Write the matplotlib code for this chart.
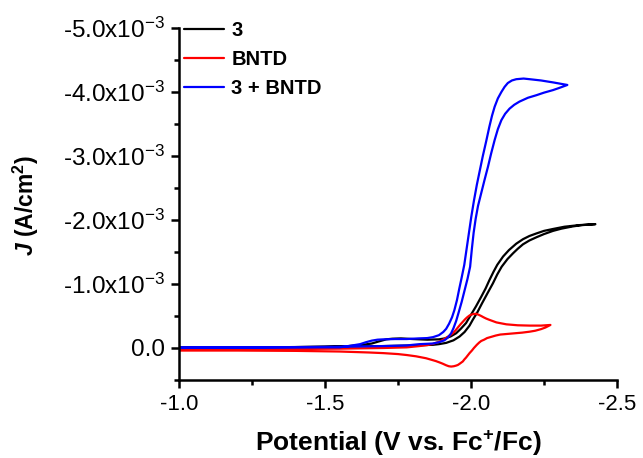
import matplotlib
matplotlib.use("Agg")
import matplotlib.pyplot as plt
from matplotlib.ticker import MultipleLocator, FixedLocator

plt.rcParams['font.family'] = ['Liberation Sans', 'DejaVu Sans']
plt.rcParams['mathtext.fontset'] = 'custom'
plt.rcParams['mathtext.rm'] = 'Liberation Sans'
plt.rcParams['mathtext.it'] = 'Liberation Sans:italic:bold'
plt.rcParams['mathtext.bf'] = 'Liberation Sans:bold'

SCALE = 1e-3  # values below are in units of 1e-3 A/cm2

# ---- Series "3" (black) ----
e3_fwd = [-1.00, -1.30, -1.50, -1.58, -1.63, -1.66, -1.69, -1.71, -1.73, -1.76, -1.80,
          -1.85, -1.89, -1.91, -1.93, -1.949, -1.965, -1.983, -2.000, -2.017, -2.035,
          -2.050, -2.063, -2.077, -2.090, -2.110, -2.130, -2.155, -2.178, -2.200, -2.224,
          -2.250, -2.281, -2.320, -2.370, -2.426]
j3_fwd = [-0.01, -0.01, -0.02, -0.03, -0.05, -0.07, -0.11, -0.135, -0.145, -0.15, -0.14,
          -0.13, -0.135, -0.15, -0.18, -0.23, -0.30, -0.39, -0.52, -0.65, -0.80,
          -0.93, -1.06, -1.19, -1.30, -1.43, -1.53, -1.63, -1.70, -1.75, -1.79,
          -1.83, -1.86, -1.895, -1.92, -1.935]
e3_rev = [-2.426, -2.380, -2.349, -2.310, -2.281, -2.250, -2.224, -2.200, -2.178, -2.160,
          -2.144, -2.125, -2.105, -2.090, -2.075, -2.057, -2.038, -2.022, -2.006, -1.995,
          -1.978, -1.961, -1.940, -1.915, -1.890, -1.870, -1.80, -1.70, -1.55, -1.30, -1.00]
j3_rev = [-1.935, -1.92, -1.90, -1.865, -1.83, -1.78, -1.73, -1.68, -1.62, -1.55,
          -1.48, -1.39, -1.27, -1.15, -1.01, -0.86, -0.70, -0.56, -0.44, -0.35,
          -0.25, -0.18, -0.12, -0.08, -0.06, -0.05, -0.04, -0.03, -0.02, -0.01, 0.00]

# ---- Series "BNTD" (red) ----
eb_fwd = [-1.00, -1.30, -1.55, -1.70, -1.78, -1.823, -1.85, -1.87, -1.892, -1.905, -1.915,
          -1.927, -1.938, -1.947, -1.955, -1.964, -1.972, -1.980, -1.987, -1.994, -2.000,
          -2.008, -2.017, -2.026, -2.035, -2.043, -2.052, -2.063, -2.075, -2.087, -2.098,
          -2.121, -2.160, -2.201, -2.240, -2.272]
jb_fwd = [0.02, 0.02, 0.01, 0.00, -0.01, -0.03, -0.045, -0.065, -0.10, -0.13, -0.16,
          -0.195, -0.23, -0.275, -0.32, -0.37, -0.41, -0.45, -0.48, -0.505, -0.52,
          -0.53, -0.535, -0.52, -0.50, -0.48, -0.46, -0.44, -0.42, -0.40, -0.39,
          -0.37, -0.355, -0.35, -0.35, -0.36]
eb_rev = [-2.272, -2.255, -2.240, -2.220, -2.201, -2.175, -2.150, -2.125, -2.100, -2.085,
          -2.070, -2.055, -2.045, -2.035, -2.028, -2.020, -2.010, -2.003, -1.995, -1.989,
          -1.983, -1.977, -1.972, -1.966, -1.960, -1.955, -1.949, -1.941, -1.932, -1.924,
          -1.915, -1.903, -1.892, -1.880, -1.869, -1.846, -1.812, -1.78, -1.75, -1.70,
          -1.65, -1.55, -1.40, -1.20, -1.00]
jb_rev = [-0.36, -0.32, -0.295, -0.27, -0.255, -0.24, -0.23, -0.22, -0.21, -0.195,
          -0.175, -0.155, -0.13, -0.11, -0.085, -0.05, 0.00, 0.04, 0.08, 0.115,
          0.15, 0.18, 0.21, 0.23, 0.25, 0.265, 0.275, 0.285, 0.29, 0.285,
          0.27, 0.245, 0.225, 0.205, 0.19, 0.16, 0.13, 0.11, 0.095, 0.08,
          0.07, 0.055, 0.045, 0.04, 0.04]

# ---- Series "3 + BNTD" (blue) ----
ec_fwd = [-1.00, -1.30, -1.55, -1.58, -1.62, -1.64, -1.66, -1.68, -1.70, -1.74, -1.78,
          -1.82, -1.85, -1.87, -1.89, -1.905, -1.915, -1.925, -1.935, -1.943, -1.952,
          -1.960, -1.968, -1.977, -1.985, -1.993, -2.001, -2.010, -2.020, -2.030, -2.040,
          -2.052, -2.063, -2.072, -2.081, -2.092, -2.104, -2.115, -2.126, -2.140, -2.155,
          -2.180, -2.201, -2.240, -2.281, -2.330]
jc_fwd = [-0.01, -0.01, -0.01, -0.03, -0.06, -0.09, -0.115, -0.13, -0.135, -0.14, -0.14,
          -0.15, -0.155, -0.17, -0.20, -0.25, -0.30, -0.38, -0.48, -0.59, -0.75,
          -0.93, -1.10, -1.30, -1.55, -1.80, -2.05, -2.30, -2.55, -2.77, -2.99,
          -3.23, -3.46, -3.63, -3.77, -3.90, -4.00, -4.08, -4.14, -4.18, -4.20,
          -4.21, -4.20, -4.18, -4.15, -4.11]
ec_rev = [-2.330, -2.300, -2.281, -2.250, -2.224, -2.195, -2.166, -2.148, -2.132, -2.117,
          -2.104, -2.092, -2.081, -2.069, -2.058, -2.046, -2.035, -2.024, -2.016, -2.009,
          -2.003, -1.997, -1.988, -1.978, -1.968, -1.958, -1.949, -1.940, -1.932, -1.920,
          -1.909, -1.890, -1.869, -1.823, -1.78, -1.70, -1.55, -1.30, -1.00]
jc_rev = [-4.11, -4.06, -4.03, -3.99, -3.95, -3.91, -3.85, -3.80, -3.74, -3.66,
          -3.56, -3.42, -3.25, -3.04, -2.83, -2.62, -2.42, -2.22, -2.02, -1.80,
          -1.55, -1.27, -1.08, -0.90, -0.72, -0.56, -0.42, -0.31, -0.23, -0.16,
          -0.12, -0.09, -0.07, -0.06, -0.04, -0.03, -0.02, -0.01, 0.00]

labels = ['3', 'BNTD', '3 + BNTD']
colors = ['#000000', '#ff0000', '#0000ff']

x_ticks = [-1.0, -1.5, -2.0, -2.5]
x_ticklabels = ['-1.0', '-1.5', '-2.0', '-2.5']
y_ticks = [0.0, -1.0, -2.0, -3.0, -4.0, -5.0]
y_ticklabels = ['0.0', '-1.0x10$^{-3}$', '-2.0x10$^{-3}$', '-3.0x10$^{-3}$',
                '-4.0x10$^{-3}$', '-5.0x10$^{-3}$']

fig = plt.figure(figsize=(6.43, 4.58), dpi=100)
ax = fig.add_axes([179/643, 1-380/458, (617-179)/643, (380-28)/458])

series = [(e3_fwd + e3_rev, j3_fwd + j3_rev),
          (eb_fwd + eb_rev, jb_fwd + jb_rev),
          (ec_fwd + ec_rev, jc_fwd + jc_rev)]
for (e, j), lab, c in zip(series, labels, colors):
    ax.plot(e, [v * SCALE for v in j], color=c, lw=1.6, label=lab,
            solid_joinstyle='round', solid_capstyle='round')

ax.set_xlim(-1.0, -2.5)
ax.set_ylim(0.5e-3, -5.0e-3)

ax.xaxis.set_major_locator(FixedLocator(x_ticks))
ax.set_xticklabels(x_ticklabels)
ax.xaxis.set_minor_locator(MultipleLocator(0.25))
ax.yaxis.set_major_locator(FixedLocator([v * SCALE for v in y_ticks]))
ax.set_yticklabels(y_ticklabels)
ax.yaxis.set_minor_locator(MultipleLocator(0.5e-3))

for s in ['top', 'right']:
    ax.spines[s].set_visible(False)
for s in ['left', 'bottom']:
    ax.spines[s].set_linewidth(1.8)

ax.tick_params(which='major', direction='out', length=6, width=1.8, pad=4)
ax.tick_params(axis='x', which='major', labelsize=16)
ax.tick_params(axis='y', which='major', labelsize=17.5)
ax.tick_params(which='minor', direction='out', length=3.5, width=1.8)

ax.set_xlabel(r'Potential (V vs. Fc$^{\mathbf{+}}$/Fc)', fontsize=19, fontweight='bold')
ax.xaxis.set_label_coords((398-179)/438, (380-443)/352)
ax.xaxis.label.set_va('center')
ax.set_ylabel(r'$\mathit{J}$ (A/cm$^{\mathbf{2}}$)', fontsize=16.5, fontweight='bold')
ax.yaxis.set_label_coords((26-179)/438, (380-206)/352)
ax.yaxis.label.set_va('center')

leg = ax.legend(loc='upper left', bbox_to_anchor=(184/643, 1-21/458), bbox_transform=fig.transFigure,
                frameon=False, prop={'weight': 'bold', 'size': 14.5}, handlelength=2.0,
                handletextpad=0.35, labelspacing=0.5, borderpad=0, borderaxespad=0)

fig.savefig('out.png', dpi=100)
